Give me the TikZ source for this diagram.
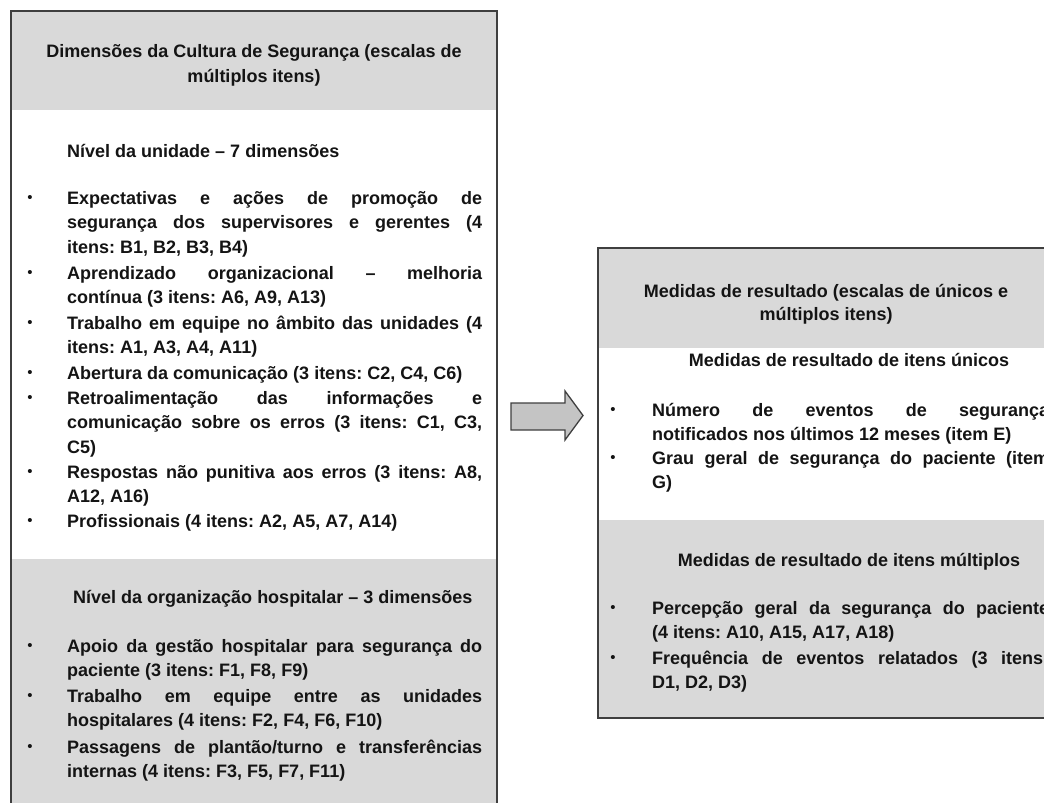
\documentclass[tikz,border=0pt]{standalone}
\usepackage{fontspec}
\setmainfont{Liberation Sans}
\frenchspacing
\definecolor{boxgray}{HTML}{D9D9D9}
\definecolor{edgecol}{HTML}{3F3F3F}
\definecolor{txtcol}{HTML}{141414}
\definecolor{arrowfill}{HTML}{C4C4C4}
\newcommand{\myjl}[1]{\makebox[\linewidth][s]{#1}\par}
\newcommand{\mylast}[1]{#1\par}
\tikzset{
  txt/.style={anchor=base west, inner sep=0pt, text=txtcol,
    font=\fontsize{18}{24.5}\bfseries\selectfont},
  ctxt/.style={anchor=base, inner sep=0pt, text=txtcol,
    font=\fontsize{18}{24.5}\bfseries\selectfont},
  bul/.style={anchor=center, inner sep=0pt, text=txtcol,
    font=\fontsize{15}{16}\selectfont},
  frame/.style={draw=edgecol, line width=1.5pt},
  band/.style={fill=boxgray},
}
\begin{document}
\begin{tikzpicture}[x=1pt,y=1pt]
\useasboundingbox (0,0) rectangle (1044,-803);
\clip (0,0) rectangle (1044,-803);
\fill[white] (0,0) rectangle (1044,-803);
% ---------- left box ----------
\fill[band] (11,-11) rectangle (497,-110);
\fill[band] (11,-559) rectangle (497,-820);
\draw[frame] (11,-820) -- (11,-11) -- (497,-11) -- (497,-820);
% ---------- right box ----------
\fill[band] (598,-248) rectangle (1070,-348);
\fill[band] (598,-520) rectangle (1070,-718);
\draw[frame] (598,-248) rectangle (1070,-718);
% ---------- block arrow ----------
\draw[draw=edgecol, line width=1.3pt, fill=arrowfill, line join=miter]
  (511,-403) -- (565,-403) -- (565,-391) -- (583,-415.5) -- (565,-440)
  -- (565,-430) -- (511,-430) -- cycle;
% ---------- left texts ----------
\node[ctxt] (lt1) at (254,-57) {Dimensões da Cultura de Segurança (escalas de};
\node[ctxt] (lt2) at (254,-82) {múltiplos itens)};
\node[txt] (lh1) at (67,-157) {Nível da unidade – 7 dimensões};
\node[txt] (la) at (67,-204) {\parbox[t]{415pt}{%
  \myjl{Expectativas e ações de promoção de}%
  \myjl{segurança dos supervisores e gerentes (4}%
  \mylast{itens: B1, B2, B3, B4)}}};
\node[txt] (lb) at (67,-279) {\parbox[t]{415pt}{%
  \myjl{Aprendizado organizacional – melhoria}%
  \mylast{contínua (3 itens: A6, A9, A13)}}};
\node[txt] (lc) at (67,-329) {\parbox[t]{415pt}{%
  \myjl{Trabalho em equipe no âmbito das unidades (4}%
  \mylast{itens: A1, A3, A4, A11)}}};
\node[txt] (ld) at (67,-379) {Abertura da comunicação (3 itens: C2, C4, C6)};
\node[txt] (le) at (67,-404) {\parbox[t]{415pt}{%
  \myjl{Retroalimentação das informações e}%
  \myjl{comunicação sobre os erros (3 itens: C1, C3,}%
  \mylast{C5)}}};
\node[txt] (lf) at (67,-478) {\parbox[t]{415pt}{%
  \myjl{Respostas não punitiva aos erros (3 itens: A8,}%
  \mylast{A12, A16)}}};
\node[txt] (lg) at (67,-527) {Profissionais (4 itens: A2, A5, A7, A14)};
\foreach \yy in {204,279,329,379,404,478,527}
  \node[bul] at (30,-\yy+5) {•};
\node[txt] (lh2) at (73,-603) {Nível da organização hospitalar – 3 dimensões};
\node[txt] (lk) at (67,-652) {\parbox[t]{415pt}{%
  \myjl{Apoio da gestão hospitalar para segurança do}%
  \mylast{paciente (3 itens: F1, F8, F9)}}};
\node[txt] (ll) at (67,-702) {\parbox[t]{415pt}{%
  \myjl{Trabalho em equipe entre as unidades}%
  \mylast{hospitalares (4 itens: F2, F4, F6, F10)}}};
\node[txt] (lm) at (67,-753) {\parbox[t]{415pt}{%
  \myjl{Passagens de plantão/turno e transferências}%
  \mylast{internas (4 itens: F3, F5, F7, F11)}}};
\foreach \yy in {652,702,753}
  \node[bul] at (30,-\yy+5) {•};
% ---------- right texts ----------
\node[ctxt] (rt1) at (826,-297) {Medidas de resultado (escalas de únicos e};
\node[ctxt] (rt2) at (826,-320) {múltiplos itens)};
\node[ctxt] (rh1) at (849,-366) {Medidas de resultado de itens únicos};
\node[txt] (ra) at (652,-416) {\parbox[t]{397pt}{%
  \myjl{Número de eventos de segurança}%
  \mylast{notificados nos últimos 12 meses (item E)}}};
\node[txt] (rb) at (652,-464) {\parbox[t]{397pt}{%
  \myjl{Grau geral de segurança do paciente (item}%
  \mylast{G)}}};
\node[ctxt] (rh2) at (849,-566) {Medidas de resultado de itens múltiplos};
\node[txt] (rc) at (652,-614) {\parbox[t]{397pt}{%
  \myjl{Percepção geral da segurança do paciente}%
  \mylast{(4 itens: A10, A15, A17, A18)}}};
\node[txt] (rd) at (652,-664) {\parbox[t]{397pt}{%
  \myjl{Frequência de eventos relatados (3 itens:}%
  \mylast{D1, D2, D3)}}};
\foreach \yy in {416,464,614,664}
  \node[bul] at (613,-\yy+5) {•};
\end{tikzpicture}
\end{document}
